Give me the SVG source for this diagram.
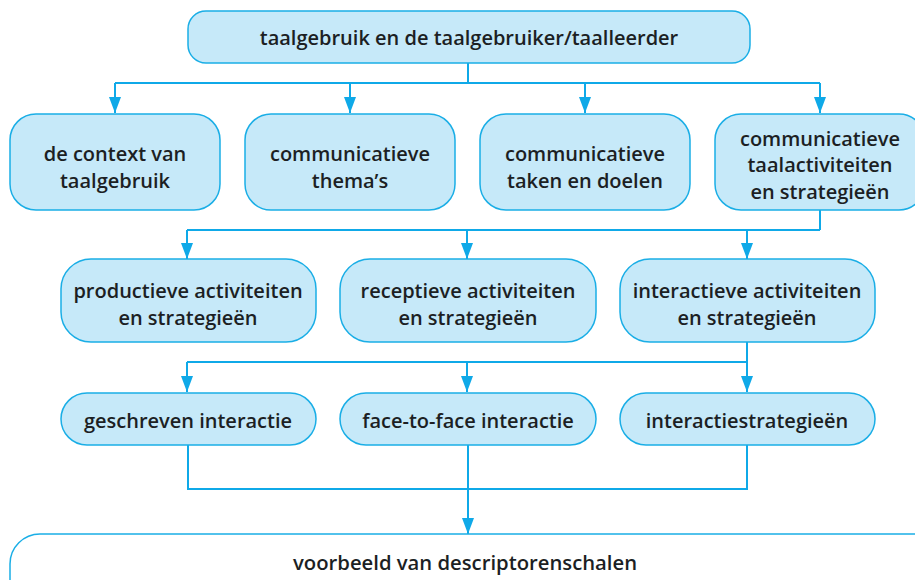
<svg xmlns="http://www.w3.org/2000/svg" width="915" height="580" viewBox="0 0 915 580">
<style>
.box{fill:#c6e9f9;stroke:#1aaee6;stroke-width:1.5}
.t{font-family:"Open Sans","Noto Sans",sans-serif;font-weight:600;font-size:20px;fill:#1c1f24;text-anchor:middle;dominant-baseline:central}
.c{fill:none;stroke:#0fa9e8;stroke-width:2}
</style>
<defs>
<marker id="arr" viewBox="0 0 16 12" refX="16" refY="6" markerWidth="16" markerHeight="12" markerUnits="userSpaceOnUse" orient="auto">
<path d="M0,0 L16,6 L0,12 z" fill="#0fa9e8"/>
</marker>
</defs>
<rect width="915" height="580" fill="#ffffff"/>
<g id="connectors">
<path class="c" d="M468 63 V83 M115 83 H820"/>
<path class="c" d="M115 83 V113" marker-end="url(#arr)"/>
<path class="c" d="M350 83 V113" marker-end="url(#arr)"/>
<path class="c" d="M585 83 V113" marker-end="url(#arr)"/>
<path class="c" d="M820 83 V113" marker-end="url(#arr)"/>
<path class="c" d="M820 210 V230 M187 230 H820"/>
<path class="c" d="M187 230 V259" marker-end="url(#arr)"/>
<path class="c" d="M467 230 V259" marker-end="url(#arr)"/>
<path class="c" d="M747 230 V259" marker-end="url(#arr)"/>
<path class="c" d="M747 342 V362 M187 362 H747"/>
<path class="c" d="M187 362 V392" marker-end="url(#arr)"/>
<path class="c" d="M467 362 V392" marker-end="url(#arr)"/>
<path class="c" d="M747 362 V392" marker-end="url(#arr)"/>
<path class="c" d="M188 445 V489 H747 V445 M468 445 V489"/>
<path class="c" d="M468 489 V534" marker-end="url(#arr)"/>
</g>
<g id="n0"><rect class="box" x="188" y="11" width="562" height="52" rx="18"/><text class="t" x="469" y="37">taalgebruik en de taalgebruiker/taalleerder</text></g>
<g id="n1"><rect class="box" x="10" y="114" width="210" height="96" rx="26"/><text class="t" x="115" y="153">de context van</text><text class="t" x="115" y="180">taalgebruik</text></g>
<g id="n2"><rect class="box" x="245" y="114" width="210" height="96" rx="26"/><text class="t" x="350" y="153">communicatieve</text><text class="t" x="350" y="180">thema’s</text></g>
<g id="n3"><rect class="box" x="480" y="114" width="210" height="96" rx="26"/><text class="t" x="585" y="153">communicatieve</text><text class="t" x="585" y="180">taken en doelen</text></g>
<g id="n4"><rect class="box" x="715" y="114" width="210" height="96" rx="26"/><text class="t" x="820" y="138">communicatieve</text><text class="t" x="820" y="164">taalactiviteiten</text><text class="t" x="820" y="191">en strategieën</text></g>
<g id="n5"><rect class="box" x="61" y="259" width="255" height="83" rx="30"/><text class="t" x="188" y="290">productieve activiteiten</text><text class="t" x="188" y="317">en strategieën</text></g>
<g id="n6"><rect class="box" x="340" y="259" width="256" height="83" rx="30"/><text class="t" x="468" y="290">receptieve activiteiten</text><text class="t" x="468" y="317">en strategieën</text></g>
<g id="n7"><rect class="box" x="620" y="259" width="255" height="83" rx="30"/><text class="t" x="747" y="290">interactieve activiteiten</text><text class="t" x="747" y="317">en strategieën</text></g>
<g id="n8"><rect class="box" x="61" y="393" width="255" height="52" rx="26"/><text class="t" x="188" y="420">geschreven interactie</text></g>
<g id="n9"><rect class="box" x="340" y="393" width="256" height="52" rx="26"/><text class="t" x="468" y="420">face-to-face interactie</text></g>
<g id="n10"><rect class="box" x="620" y="393" width="255" height="52" rx="26"/><text class="t" x="747" y="420">interactiestrategieën</text></g>
<g id="n11"><rect class="box" x="10" y="534" width="940" height="90" rx="30" style="fill:#ffffff"/><text class="t" x="465" y="562" textLength="344" lengthAdjust="spacingAndGlyphs">voorbeeld van descriptorenschalen</text></g>
</svg>
